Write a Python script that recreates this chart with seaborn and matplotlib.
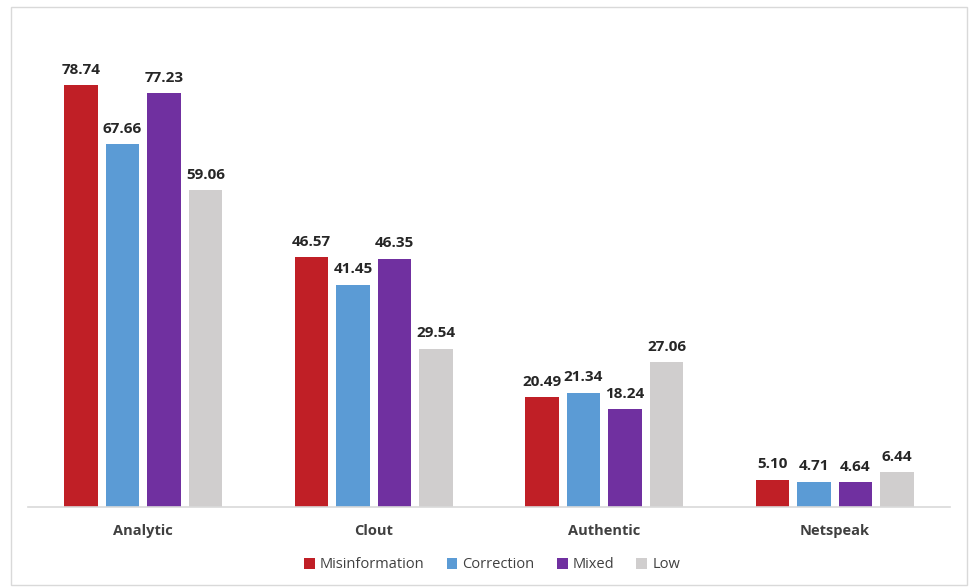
import pandas as pd
import matplotlib.pyplot as plt
import seaborn as sns
from matplotlib.patches import Rectangle

categories = ['Analytic', 'Clout', 'Authentic', 'Netspeak']
groups = ['Misinformation', 'Correction', 'Mixed', 'Low']
misinformation = [78.74, 46.57, 20.49, 5.10]
correction = [67.66, 41.45, 21.34, 4.71]
mixed = [77.23, 46.35, 18.24, 4.64]
low = [59.06, 29.54, 27.06, 6.44]
colors = ['#C01F26', '#5B9BD5', '#7030A0', '#D0CECE']

rows = []
for g, vals in zip(groups, [misinformation, correction, mixed, low]):
    for c, v in zip(categories, vals):
        rows.append({'category': c, 'group': g, 'value': v})
df = pd.DataFrame(rows)

sns.set_style('white')
plt.rcParams['font.family'] = ['Open Sans', 'DejaVu Sans']

fig = plt.figure(figsize=(9.7, 5.88), dpi=100)
ax = fig.add_axes([28/970, 1-507/588, 922/970, (507-24.6)/588])

sns.barplot(data=df, x='category', y='value', hue='group', order=categories,
            hue_order=groups, palette=colors, width=0.72, gap=0.2,
            saturation=1, ax=ax, legend=True, edgecolor='none')

for cont in ax.containers:
    ax.bar_label(cont, fmt='%.2f', padding=6, fontsize=11,
                 fontweight='bold', color='#262626')

ax.set_xlim(-0.5, 3.5)
ax.set_ylim(0, 90)
ax.set_xlabel('')
ax.set_ylabel('')
ax.set_yticks([])
ax.tick_params(axis='x', length=0, pad=12)
for lab in ax.get_xticklabels():
    lab.set_fontweight('bold')
    lab.set_fontsize(10.5)
    lab.set_color('#404040')
for s in ['top', 'right', 'left']:
    ax.spines[s].set_visible(False)
ax.spines['bottom'].set_color('#D9D9D9')
ax.spines['bottom'].set_linewidth(1.2)

handles, labels = ax.get_legend_handles_labels()
ax.legend_.remove()
fig.legend(handles, labels, loc='center', bbox_to_anchor=(492/970, 1-565/588),
           ncol=4, frameon=False, fontsize=10.5, handlelength=0.75,
           handleheight=0.75, handletextpad=0.35, columnspacing=1.5,
           labelcolor='#404040')

fig.patches.append(Rectangle((11/970, 1-585/588), 956/970, 578/588,
                             transform=fig.transFigure, fill=False,
                             edgecolor='#D9D9D9', linewidth=1))

fig.savefig('out.png', dpi=100)
